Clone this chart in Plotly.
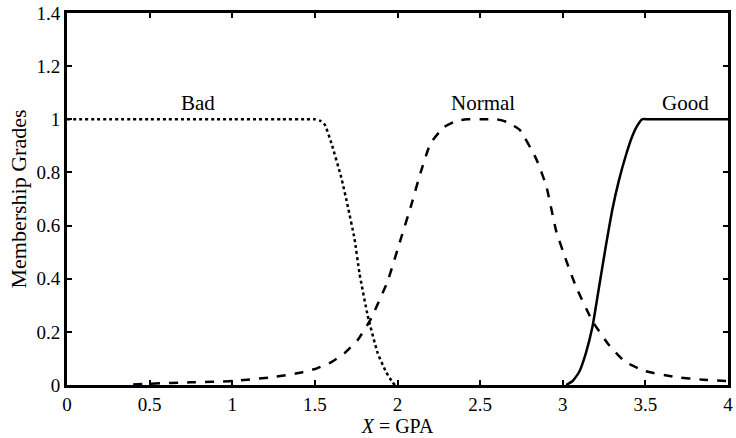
import plotly.graph_objects as go

# Data
bad_x = [0.0, 0.5, 1.0, 1.3, 1.45, 1.50, 1.53, 1.56, 1.60, 1.66, 1.70, 1.74, 1.77, 1.82, 1.88, 1.93, 1.97, 1.985]
bad_y = [1.0, 1.0, 1.0, 1.0, 1.0, 1.0, 0.995, 0.98, 0.91, 0.78, 0.67, 0.55, 0.42, 0.26, 0.12, 0.05, 0.01, 0.0]

normal_x = [0.40, 0.50, 0.75, 1.00, 1.25, 1.40, 1.50, 1.60, 1.68, 1.76, 1.84, 1.94, 2.02, 2.08,
            2.14, 2.20, 2.28, 2.36, 2.42, 2.50, 2.60, 2.66, 2.74, 2.84, 2.90, 2.96, 3.02, 3.08, 3.18,
            3.28, 3.38, 3.50, 3.68, 3.85, 4.00]
normal_y = [0.002, 0.005, 0.01, 0.015, 0.03, 0.045, 0.06, 0.086, 0.12, 0.17, 0.25, 0.39, 0.55, 0.67,
            0.80, 0.91, 0.97, 0.995, 1.0, 1.0, 1.0, 0.99, 0.96, 0.85, 0.75, 0.58, 0.47, 0.37, 0.24,
            0.15, 0.086, 0.052, 0.03, 0.02, 0.015]

good_x = [3.02, 3.06, 3.10, 3.14, 3.18, 3.22, 3.26, 3.30, 3.34, 3.38, 3.42, 3.45, 3.48, 3.52, 3.60, 3.80, 4.00]
good_y = [0.0, 0.015, 0.05, 0.12, 0.22, 0.37, 0.52, 0.66, 0.77, 0.86, 0.935, 0.975, 1.0, 1.0, 1.0, 1.0, 1.0]

labels = ["Bad", "Normal", "Good"]
label_x = [0.79, 2.52, 3.74]
label_y = [1.06, 1.06, 1.06]

x_ticks = [0, 0.5, 1, 1.5, 2, 2.5, 3, 3.5, 4]
x_tick_text = ["0", "0.5", "1", "1.5", "2", "2.5", "3", "3.5", "4"]
y_ticks = [0, 0.2, 0.4, 0.6, 0.8, 1, 1.2, 1.4]
y_tick_text = ["0", "0.2", "0.4", "0.6", "0.8", "1", "1.2", "1.4"]

FONT = "Liberation Serif, Times New Roman, serif"

fig = go.Figure()
fig.add_trace(go.Scatter(x=bad_x, y=bad_y, mode="lines", name="Bad",
                         line=dict(color="black", width=2.5, dash="dot", shape="spline", smoothing=0.4)))
fig.add_trace(go.Scatter(x=normal_x, y=normal_y, mode="lines", name="Normal",
                         line=dict(color="black", width=2.5, dash="dash", shape="spline", smoothing=0.4)))
fig.add_trace(go.Scatter(x=good_x, y=good_y, mode="lines", name="Good",
                         line=dict(color="black", width=2.5, shape="spline", smoothing=0.5)))

for t, lx, ly in zip(labels, label_x, label_y):
    fig.add_annotation(x=lx, y=ly, text=t, showarrow=False,
                       font=dict(family=FONT, size=21, color="black"))

fig.update_layout(
    width=736, height=438,
    margin=dict(l=67, r=3, t=12, b=52),
    plot_bgcolor="white", paper_bgcolor="white",
    showlegend=False,
    font=dict(family=FONT, size=19, color="black"),
)
fig.update_xaxes(range=[0, 4], tickvals=x_ticks, ticktext=x_tick_text,
                 showgrid=False, zeroline=False, showline=True, linecolor="black", linewidth=3,
                 mirror="allticks", ticks="inside", ticklen=5, tickwidth=2, tickcolor="black",
                 tickfont=dict(family=FONT, size=19, color="black"),
                 title=dict(text="<i>X</i> = GPA", standoff=6,
                            font=dict(family=FONT, size=20, color="black")))
fig.update_yaxes(range=[0, 1.4], tickvals=y_ticks, ticktext=y_tick_text,
                 showgrid=False, zeroline=False, showline=True, linecolor="black", linewidth=3,
                 mirror="allticks", ticks="inside", ticklen=5, tickwidth=2, tickcolor="black",
                 tickfont=dict(family=FONT, size=19, color="black"),
                 title=dict(text="Membership Grades", standoff=4,
                            font=dict(family=FONT, size=22, color="black")))

fig.write_html("out.html")
